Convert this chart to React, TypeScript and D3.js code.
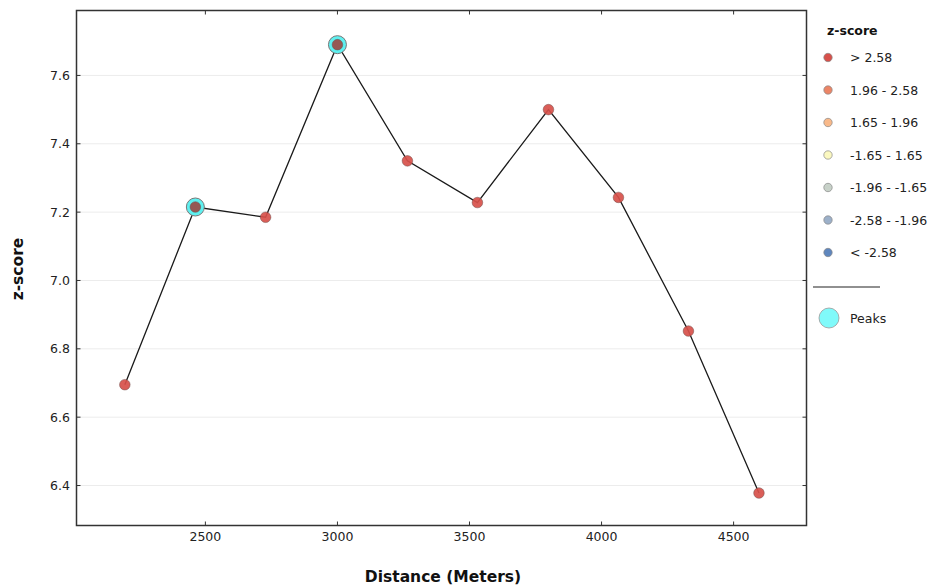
import React from "react";
import * as d3 from "d3";

const distances = [2195, 2462, 2728, 3000, 3265, 3530, 3799, 4064, 4329, 4596];
const zscores = [6.695, 7.215, 7.185, 7.69, 7.35, 7.228, 7.5, 7.243, 6.852, 6.378];
const peakIndices = [1, 3];
const xTicks = [2500, 3000, 3500, 4000, 4500];
const yTicks = [6.4, 6.6, 6.8, 7.0, 7.2, 7.4, 7.6];
const legendLabels = ["> 2.58", "1.96 - 2.58", "1.65 - 1.96", "-1.65 - 1.65", "-1.96 - -1.65", "-2.58 - -1.96", "< -2.58"];
const legendColors = ["#d7504a", "#ec8566", "#f8b98a", "#fbf8c0", "#c7d1c8", "#9cb0c9", "#5f86bd"];

export default function App() {
  const W = 933, H = 586;
  const left = 76.5, right = 806.5, top = 10.5, bottom = 525.5;
  const x = d3.scaleLinear().domain([2012, 4776]).range([left, right]);
  const y = d3.scaleLinear().domain([6.283, 7.79]).range([bottom, top]);
  const line = d3.line<number>().x((_, i) => x(distances[i])).y((d) => y(d));
  const font = "DejaVu Sans, sans-serif";
  return (
    <svg width={W} height={H} style={{ position: "absolute", left: 0, top: 0, background: "#fff" }} fontFamily={font}>
      <rect x={0} y={0} width={W} height={H} fill="#fff" />
      {yTicks.map((t) => (
        <line key={"g" + t} x1={left} x2={right} y1={y(t)} y2={y(t)} stroke="#ececec" strokeWidth={1} />
      ))}
      <path d={line(zscores) || ""} fill="none" stroke="#1a1a1a" strokeWidth={1.3} />
      {peakIndices.map((i) => (
        <circle key={"p" + i} cx={x(distances[i])} cy={y(zscores[i])} r={9} fill="#5ef0f0" stroke="#777" strokeWidth={1} />
      ))}
      {zscores.map((v, i) => (
        <circle key={"c" + i} cx={x(distances[i])} cy={y(v)} r={5.3}
          fill={peakIndices.includes(i) ? "#9a4c47" : "#d7504a"} fillOpacity={0.92}
          stroke="#6b4a48" strokeOpacity={0.6} strokeWidth={0.8} />
      ))}
      <rect x={left} y={top} width={right - left} height={bottom - top} fill="none" stroke="#333" strokeWidth={1.5} />
      {xTicks.map((t) => (
        <g key={"x" + t}>
          <line x1={x(t)} x2={x(t)} y1={bottom} y2={bottom - 4} stroke="#333" />
          <line x1={x(t)} x2={x(t)} y1={top} y2={top + 4} stroke="#333" />
          <text x={x(t)} y={541} textAnchor="middle" fontSize={12.5} fill="#222">{t}</text>
        </g>
      ))}
      {yTicks.map((t) => (
        <g key={"y" + t}>
          <line x1={left} x2={left + 4} y1={y(t)} y2={y(t)} stroke="#333" />
          <line x1={right} x2={right - 4} y1={y(t)} y2={y(t)} stroke="#333" />
          <text x={70} y={y(t) + 4.5} textAnchor="end" fontSize={12.5} fill="#222">{t.toFixed(1)}</text>
        </g>
      ))}
      <text x={443} y={582} textAnchor="middle" fontSize={15.5} fontWeight="bold" fill="#111">Distance (Meters)</text>
      <text transform="translate(23,269) rotate(-90)" textAnchor="middle" fontSize={15.5} fontWeight="bold" fill="#111">z-score</text>
      <text x={827} y={35} fontSize={12.5} fontWeight="bold" fill="#111">z-score</text>
      {legendLabels.map((l, i) => (
        <g key={"l" + i}>
          <circle cx={828} cy={57.5 + i * 32.5} r={4.2} fill={legendColors[i]} stroke="#888" strokeWidth={0.7} />
          <text x={850} y={62 + i * 32.5} fontSize={12.5} fill="#222">{l}</text>
        </g>
      ))}
      <line x1={813} x2={880} y1={287} y2={287} stroke="#222" strokeWidth={1.2} />
      <circle cx={829} cy={318} r={10} fill="#80fafa" stroke="#999" strokeWidth={0.8} />
      <text x={850} y={322.5} fontSize={12.5} fill="#222">Peaks</text>
    </svg>
  );
}
